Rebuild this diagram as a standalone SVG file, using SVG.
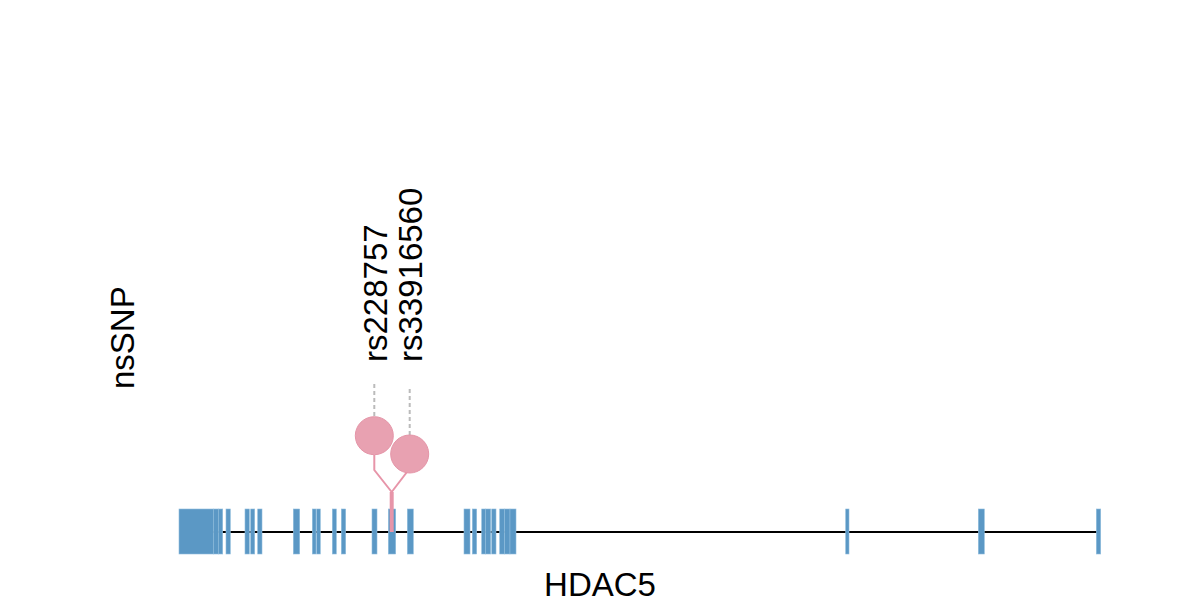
<svg xmlns="http://www.w3.org/2000/svg" width="1200" height="600" viewBox="0 0 1200 600">
<style>
.t{font-family:"Liberation Sans",Arial,sans-serif;font-size:33px;fill:#000}
.ex{fill:#5b98c5;stroke:#8fbcdc;stroke-width:0.6}
.dash{stroke:#bbbbbb;stroke-width:2;stroke-dasharray:4 3;fill:none}
.stem{stroke:#e795a9;fill:none}
.pop{fill:#e8a1b1;stroke:#e595a8;stroke-width:1}
</style>
<rect width="1200" height="600" fill="#fff"/>
<g id="gene">
<line x1="179" y1="532" x2="1100" y2="532" stroke="#000" stroke-width="2"/>
<g id="exons">
<rect class="ex" x="179" y="509" width="34.3" height="45"/>
<rect class="ex" x="213.3" y="509" width="5" height="45"/>
<rect class="ex" x="218.3" y="509" width="4.4" height="45"/>
<rect class="ex" x="226" y="509" width="4.3" height="45"/>
<rect class="ex" x="245" y="509" width="4.3" height="45"/>
<rect class="ex" x="250.7" y="509" width="4" height="45"/>
<rect class="ex" x="257.7" y="509" width="4.3" height="45"/>
<rect class="ex" x="293.3" y="509" width="6.4" height="45"/>
<rect class="ex" x="312.3" y="509" width="3.7" height="45"/>
<rect class="ex" x="316.7" y="509" width="3.6" height="45"/>
<rect class="ex" x="332.3" y="509" width="4" height="45"/>
<rect class="ex" x="341.3" y="509" width="4.4" height="45"/>
<rect class="ex" x="372" y="509" width="5" height="45"/>
<rect class="ex" x="388.3" y="509" width="7.4" height="45"/>
<rect class="ex" x="407.3" y="509" width="6" height="45"/>
<rect class="ex" x="464" y="509" width="6" height="45"/>
<rect class="ex" x="472.3" y="509" width="4.4" height="45"/>
<rect class="ex" x="481.7" y="509" width="4" height="45"/>
<rect class="ex" x="485.7" y="509" width="5" height="45"/>
<rect class="ex" x="491.7" y="509" width="4.3" height="45"/>
<rect class="ex" x="499.7" y="509" width="5" height="45"/>
<rect class="ex" x="504.7" y="509" width="5.3" height="45"/>
<rect class="ex" x="510" y="509" width="6" height="45"/>
<rect class="ex" x="845.7" y="509" width="3.3" height="45"/>
<rect class="ex" x="978.3" y="509" width="6" height="45"/>
<rect class="ex" x="1096.3" y="509" width="4.4" height="45"/>
</g>
</g>
<g id="connectors">
<line class="dash" x1="374.3" y1="416" x2="374.3" y2="381"/>
<line class="dash" x1="409.7" y1="435" x2="409.7" y2="386"/>
<line class="stem" x1="391.7" y1="532" x2="391.7" y2="492" stroke-width="4"/>
<polyline class="stem" points="374.3,455 374.3,470 391.7,492" stroke-width="2"/>
<line class="stem" x1="408.5" y1="470" x2="391.7" y2="492" stroke-width="2"/>
</g>
<g id="snp-rs228757">
<circle class="pop" cx="374.3" cy="435.7" r="19"/>
<text class="t" transform="translate(387,362) rotate(-90)">rs228757</text>
</g>
<g id="snp-rs33916560">
<circle class="pop" cx="409.7" cy="454" r="19"/>
<text class="t" transform="translate(422,362) rotate(-90)">rs33916560</text>
</g>
<g id="label-nsSNP">
<text class="t" transform="translate(134,389) rotate(-90)">nsSNP</text>
</g>
<g id="label-gene">
<text class="t" x="600" y="596" text-anchor="middle">HDAC5</text>
</g>
</svg>
